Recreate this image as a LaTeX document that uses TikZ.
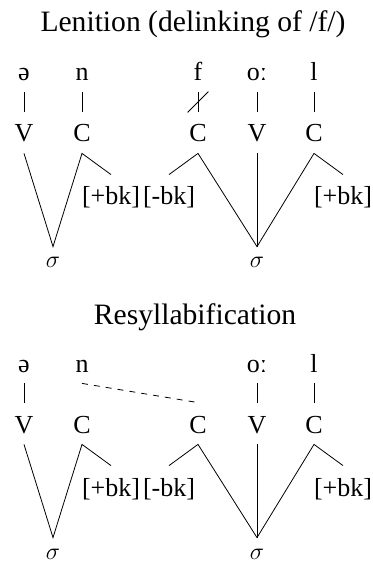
\documentclass[tikz,border=0pt]{standalone}
\usepackage{fontspec}
\setmainfont{Liberation Serif}
\usetikzlibrary{shapes.misc}

\begin{document}
\begin{tikzpicture}[
    x=0.5pt, y=-0.5pt,
    tier/.style={anchor=base, inner xsep=1pt, inner ysep=5.5pt,
                 text height=9.5pt, text depth=0pt,
                 font=\fontsize{13}{15}\selectfont},
    seg/.style={tier, text height=6pt},
    syl/.style={tier, text height=5pt},
    heading/.style={anchor=base, inner sep=0pt,
                    font=\fontsize{14.8}{17}\selectfont}
  ]
  \useasboundingbox (0,0) rectangle (373,566);

  % Lenition
  \node[heading] (lenit) at (193,32) {Lenition (delinking of /f/)};

  \node[seg] (sch1) at (24,81) {ə};
  \node[seg] (n1) at (82,81) {n};
  \node[seg] (f1) at (198,81) {f};
  \node[seg] (o1) at (257,81) {oː};
  \node[seg] (l1) at (314,81) {l};

  \node[tier] (v1) at (24,142) {V};
  \node[tier] (c1) at (82,142) {C};
  \node[tier] (c2) at (198,142) {C};
  \node[tier] (v2) at (257,142) {V};
  \node[tier] (c3) at (314,142) {C};

  \node[tier] (bk1) at (111,205) {[+bk]};
  \node[tier] (bk2) at (169,205) {[-bk]};
  \node[tier] (bk3) at (343,205) {[+bk]};

  \node[syl] (s1) at (53,268) {$\sigma$};
  \node[syl] (s2) at (257,268) {$\sigma$};

  \draw (sch1.south) -- (v1.north);
  \draw (n1.south) -- (c1.north);
  \draw (f1.south) -- node[strike out, draw, minimum width=10pt,
                           minimum height=10pt, inner sep=0pt] {} (c2.north);
  \draw (o1.south) -- (v2.north);
  \draw (l1.south) -- (c3.north);

  \draw (v1.south) -- (s1.north) -- (c1.south) -- (bk1.north);
  \draw (bk2.north) -- (c2.south) -- (s2.north) -- (c3.south) -- (bk3.north);
  \draw (v2.south) -- (s2.north);

  % Resyllabification
  \node[heading] (resyl) at (195,324) {Resyllabification};

  \node[seg] (sch2) at (24,372) {ə};
  \node[seg] (n2) at (82,372) {n};
  \node[seg] (o2) at (257,372) {oː};
  \node[seg] (l2) at (314,372) {l};

  \node[tier] (v3) at (24,433) {V};
  \node[tier] (c4) at (82,433) {C};
  \node[tier] (c5) at (198,433) {C};
  \node[tier] (v4) at (257,433) {V};
  \node[tier] (c6) at (314,433) {C};

  \node[tier] (bk4) at (111,496) {[+bk]};
  \node[tier] (bk5) at (169,496) {[-bk]};
  \node[tier] (bk6) at (343,496) {[+bk]};

  \node[syl] (s3) at (53,559) {$\sigma$};
  \node[syl] (s4) at (257,559) {$\sigma$};

  \draw (sch2.south) -- (v3.north);
  \draw[dashed] (n2.south) -- (c5.north);
  \draw (o2.south) -- (v4.north);
  \draw (l2.south) -- (c6.north);

  \draw (v3.south) -- (s3.north) -- (c4.south) -- (bk4.north);
  \draw (bk5.north) -- (c5.south) -- (s4.north) -- (c6.south) -- (bk6.north);
  \draw (v4.south) -- (s4.north);
\end{tikzpicture}
\end{document}
